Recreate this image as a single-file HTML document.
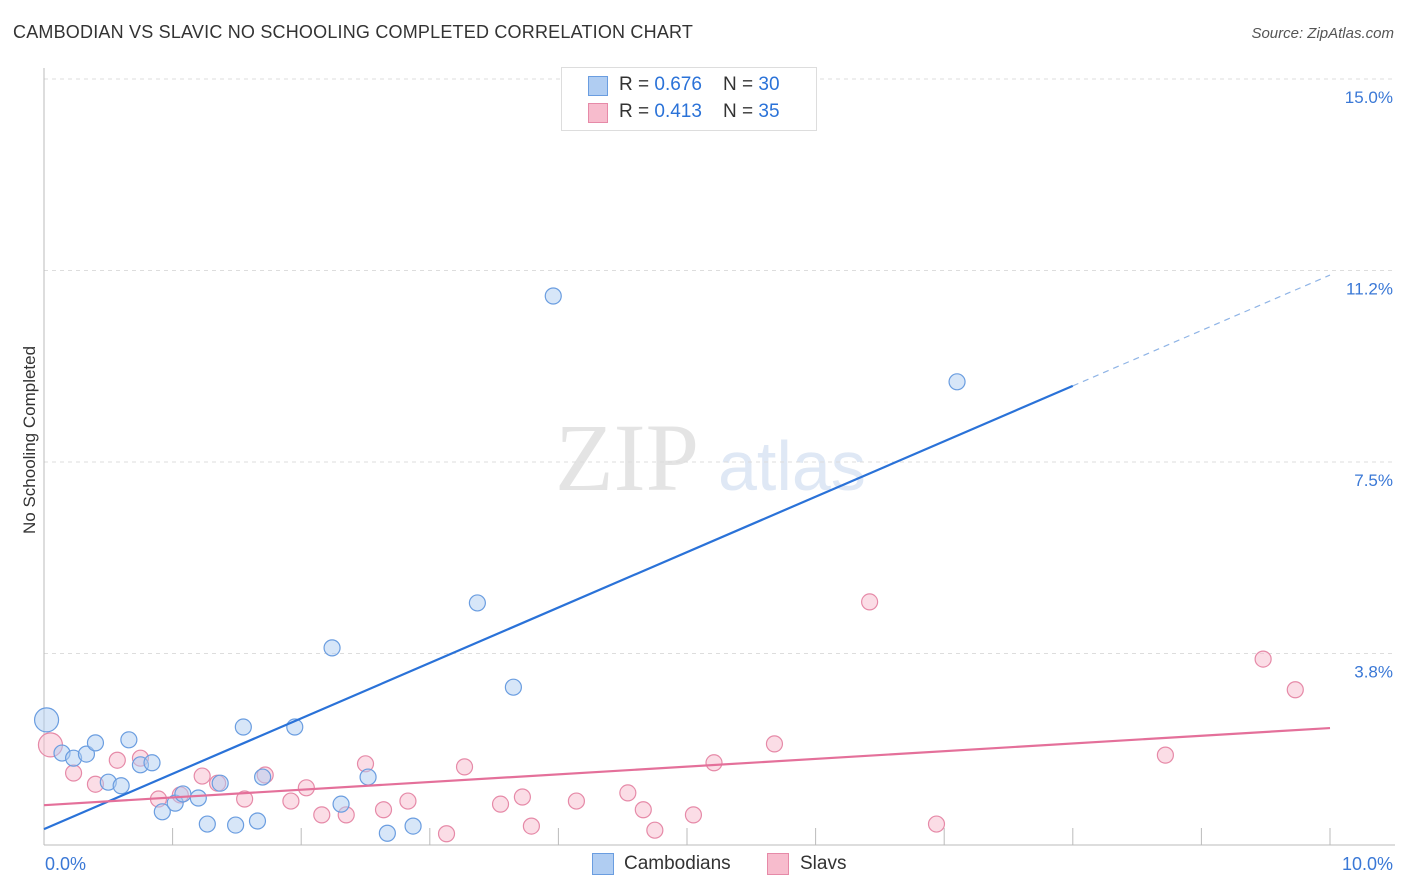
<!DOCTYPE html>
<html><head><meta charset="utf-8">
<style>
body{margin:0;background:#fff;font-family:"Liberation Sans",sans-serif;}
#wrap{position:relative;width:1406px;height:892px;overflow:hidden;}
.t{position:absolute;white-space:nowrap;}
</style></head>
<body>
<div id="wrap">
<div class="t" style="left:13px;top:22px;font-size:18px;color:#333;letter-spacing:0.2px;">CAMBODIAN VS SLAVIC NO SCHOOLING COMPLETED CORRELATION CHART</div>
<div class="t" style="right:12px;top:25px;font-size:15px;color:#555;font-style:italic;">Source: ZipAtlas.com</div>
<div class="t" style="left:-50px;top:444px;font-size:17px;color:#333;transform:rotate(-90deg);width:160px;text-align:center;">No Schooling Completed</div>
<svg id="svg" width="1406" height="892" style="position:absolute;left:0;top:0;"></svg>
</div>
<script>
const yTicks=[3.75,7.5,11.25,15];
const yTickLabels=["3.8%","7.5%","11.2%","15.0%"];
const xTicks=[1,2,3,4,5,6,7,8,9,10];
const camX=[0.02,0.14,0.23,0.33,0.40,0.50,0.60,0.66,0.75,0.84,0.92,1.02,1.08,1.20,1.27,1.37,1.49,1.55,1.66,1.70,1.95,2.24,2.31,2.52,2.67,2.87,3.37,3.65,3.96,7.10];
const camY=[2.45,1.80,1.70,1.78,2.0,1.23,1.16,2.06,1.57,1.61,0.65,0.82,1.0,0.92,0.41,1.21,0.39,2.31,0.47,1.33,2.31,3.86,0.80,1.33,0.23,0.37,4.74,3.09,10.75,9.07];
const slvX=[0.05,0.23,0.40,0.57,0.75,0.89,1.06,1.23,1.35,1.56,1.72,1.92,2.04,2.16,2.35,2.50,2.64,2.83,3.13,3.27,3.55,3.72,3.79,4.14,4.54,4.66,4.75,5.05,5.21,5.68,6.42,6.94,8.72,9.48,9.73];
const slvY=[1.96,1.41,1.19,1.66,1.70,0.90,0.98,1.35,1.21,0.90,1.37,0.86,1.12,0.59,0.59,1.59,0.69,0.86,0.22,1.53,0.80,0.94,0.37,0.86,1.02,0.69,0.29,0.59,1.61,1.98,4.76,0.41,1.76,3.64,3.04];
const camTrend=[0.31,1.085];
const slvTrend=[0.78,0.151];
const X=v=>44+v*128.6, Y=v=>845-v*51.07;
const svg=document.getElementById('svg');const NS='http://www.w3.org/2000/svg';
function mk(t,a,p){const e=document.createElementNS(NS,t);for(const k in a)e.setAttribute(k,a[k]);(p||svg).appendChild(e);return e;}
// watermark
let w=mk('text',{x:555,y:490,'font-size':96,'font-family':'Liberation Serif',fill:'#e4e4e4'});w.textContent='ZIP';

let w2=mk('text',{x:718,y:490,'font-size':70,'font-family':'Liberation Sans',fill:'#dfe8f5'});w2.textContent='atlas';

yTicks.forEach((v,i)=>{let g=mk('line',{x1:44,x2:1395,y1:Y(v),y2:Y(v),stroke:'#ddd','stroke-dasharray':'4,4'});

let t=mk('text',{x:1393,y:Y(v)+24,'text-anchor':'end','font-size':17,fill:'#3a78d6'});t.textContent=yTickLabels[i];
});
let ax=mk('line',{x1:44,x2:44,y1:68,y2:845,stroke:'#bbb'});
let axx=mk('line',{x1:44,x2:1395,y1:845,y2:845,stroke:'#bbb'});
xTicks.forEach(v=>{let l=mk('line',{x1:X(v),x2:X(v),y1:828,y2:845,stroke:'#bbb'});});
let xl=mk('text',{x:45,y:870,'font-size':18,fill:'#3a78d6'});xl.textContent='0.0%';
let xr=mk('text',{x:1393,y:870,'text-anchor':'end','font-size':18,fill:'#3a78d6'});xr.textContent='10.0%';
function pts(xs,ys,fill,stroke,name){xs.forEach((x,i)=>{const r=i==0?12:8;let c=mk('circle',{cx:X(x),cy:Y(ys[i]),r:r,fill:fill,'fill-opacity':0.5,stroke:stroke,'stroke-width':1.2});
});}
pts(slvX,slvY,'#f7bccd','#e68aa8','slavs-point');
pts(camX,camY,'#b0cdf2','#6a9de0','cambodians-point');
let l1=mk('line',{x1:X(0),y1:Y(camTrend[0]),x2:X(8),y2:Y(camTrend[0]+8*camTrend[1]),stroke:'#2a72d8','stroke-width':2.2});

let l2=mk('line',{x1:X(8),y1:Y(camTrend[0]+8*camTrend[1]),x2:X(10),y2:Y(camTrend[0]+10*camTrend[1]),stroke:'#8fb4e6','stroke-width':1.2,'stroke-dasharray':'6,5'});

let l3=mk('line',{x1:X(0),y1:Y(slvTrend[0]),x2:X(10),y2:Y(slvTrend[0]+10*slvTrend[1]),stroke:'#e4709a','stroke-width':2.2});

</script>
<div style="position:absolute;left:561px;top:67px;width:254px;height:62px;border:1px solid #ddd;background:#fff;font-size:19px;color:#333;">
 <div style="position:absolute;left:26px;top:8px;width:18px;height:18px;background:#b0cdf2;border:1px solid #6a9de0;"></div>
 <div class="t" style="left:57px;top:6px;">R = <span style="color:#2a72d8">0.676</span>&nbsp;&nbsp;&nbsp; N = <span style="color:#2a72d8">30</span></div>
 <div style="position:absolute;left:26px;top:35px;width:18px;height:18px;background:#f7bccd;border:1px solid #e68aa8;"></div>
 <div class="t" style="left:57px;top:33px;">R = <span style="color:#2a72d8">0.413</span>&nbsp;&nbsp;&nbsp; N = <span style="color:#2a72d8">35</span></div>
</div>
<div style="position:absolute;left:592px;top:853px;font-size:19px;color:#333;">
 <div style="position:absolute;left:0;top:0;width:20px;height:20px;background:#b0cdf2;border:1px solid #6a9de0;"></div>
 <div class="t" style="left:32px;top:0;">Cambodians</div>
 <div style="position:absolute;left:175px;top:0;width:20px;height:20px;background:#f7bccd;border:1px solid #e68aa8;"></div>
 <div class="t" style="left:208px;top:0;">Slavs</div>
</div>
</body></html>
